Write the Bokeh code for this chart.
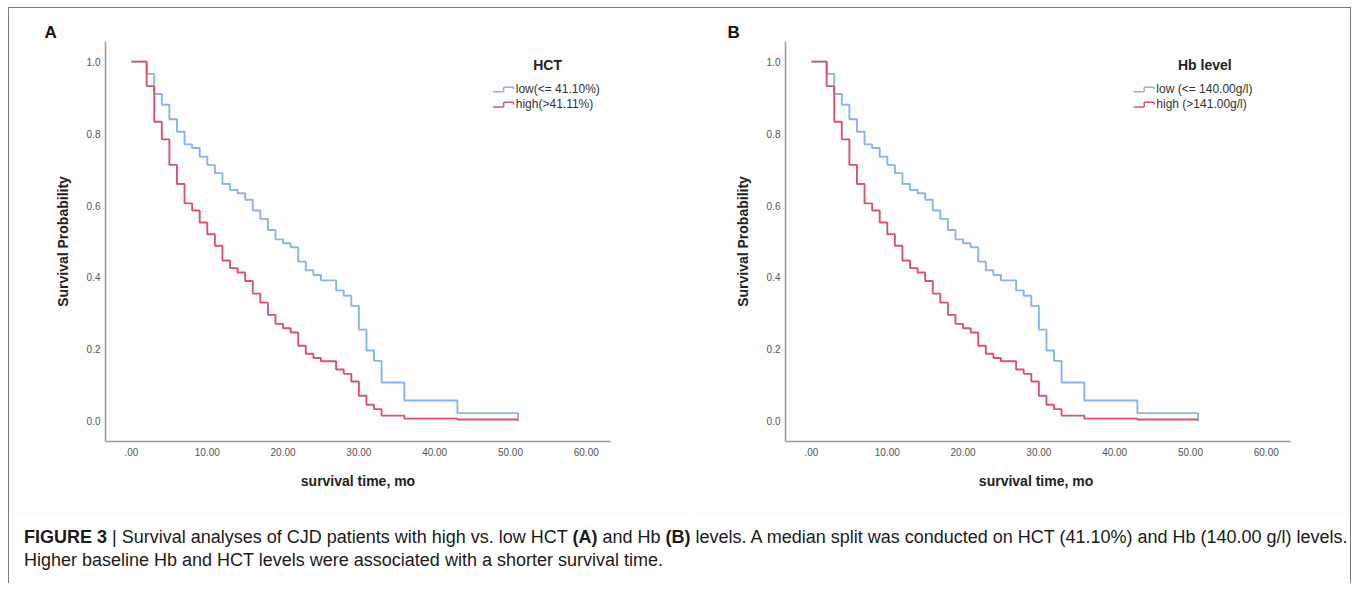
from bokeh.plotting import figure
from bokeh.models import Range1d, FixedTicker, Label, Arrow, Div
from bokeh.layouts import row, column
from bokeh.embed import file_html
from bokeh.resources import INLINE

# ---------------- data ----------------
event_months = [0, 2, 3, 4, 5, 6, 7, 8, 9, 10, 11, 12, 13, 14, 15, 16, 17, 18, 19,
                20, 21, 22, 23, 24, 25, 27, 28, 29, 30, 31, 32, 33, 36, 43, 51]

hct_low_surv = [1.0, 0.966, 0.91, 0.88, 0.84, 0.805, 0.77, 0.76, 0.736, 0.713, 0.69,
                0.66, 0.643, 0.634, 0.616, 0.586, 0.563, 0.532, 0.506, 0.495, 0.484,
                0.444, 0.42, 0.407, 0.392, 0.364, 0.349, 0.321, 0.255, 0.197, 0.168,
                0.108, 0.058, 0.023, 0.0]
hct_high_surv = [1.0, 0.932, 0.833, 0.784, 0.713, 0.66, 0.606, 0.586, 0.553, 0.52,
                 0.488, 0.447, 0.426, 0.414, 0.39, 0.355, 0.33, 0.296, 0.271, 0.259,
                 0.247, 0.21, 0.188, 0.176, 0.167, 0.144, 0.132, 0.111, 0.071, 0.046,
                 0.034, 0.016, 0.0075, 0.005, 0.005]

hb_low_surv = [1.0, 0.966, 0.91, 0.88, 0.84, 0.805, 0.77, 0.76, 0.736, 0.713, 0.69,
               0.66, 0.643, 0.634, 0.616, 0.586, 0.563, 0.532, 0.506, 0.495, 0.484,
               0.444, 0.42, 0.407, 0.392, 0.364, 0.349, 0.321, 0.255, 0.197, 0.168,
               0.108, 0.058, 0.023, 0.0]
hb_high_surv = [1.0, 0.932, 0.833, 0.784, 0.713, 0.66, 0.606, 0.586, 0.553, 0.52,
                0.488, 0.447, 0.426, 0.414, 0.39, 0.355, 0.33, 0.296, 0.271, 0.259,
                0.247, 0.21, 0.188, 0.176, 0.167, 0.144, 0.132, 0.111, 0.071, 0.046,
                0.034, 0.016, 0.0075, 0.005, 0.005]

x_ticks = [0, 10, 20, 30, 40, 50, 60]
x_tick_labels = [".00", "10.00", "20.00", "30.00", "40.00", "50.00", "60.00"]
y_ticks = [0.0, 0.2, 0.4, 0.6, 0.8, 1.0]
y_tick_labels = ["0.0", "0.2", "0.4", "0.6", "0.8", "1.0"]

hct_legend_title = "HCT"
hct_legend_labels = ["low(<= 41.10%)", "high(>41.11%)"]
hb_legend_title = "Hb level"
hb_legend_labels = ["low  (<= 140.00g/l)", "high  (>141.00g/l)"]

BLUE = "#8db4ea"
RED = "#d6566f"
FONT = "Liberation Sans"


def make_panel(letter, x_title, leg_title, leg_labels, low_s, high_s,
               border_right, title_x, entry_x, letter_offset):
    p = figure(frame_width=505, frame_height=400,
               min_border_left=96, min_border_right=border_right,
               min_border_top=33, min_border_bottom=76,
               x_range=Range1d(-3.43, 63.2), y_range=Range1d(-0.056, 1.056),
               output_backend="svg", toolbar_location=None,
               background_fill_color="#fdfdfd", border_fill_color="#fdfdfd")
    p.outline_line_color = None
    p.grid.visible = False

    # panel letter as the figure title
    p.title.text = letter
    p.title.align = "left"
    p.title.offset = letter_offset
    p.title.standoff = 0
    p.title.text_font = FONT
    p.title.text_font_size = "17px"
    p.title.text_font_style = "bold"
    p.title.text_color = "#111111"

    for ax in (p.xaxis[0], p.yaxis[0]):
        ax.axis_line_color = "#9a9a9a"
        ax.axis_line_width = 1.5
        ax.major_tick_line_color = None
        ax.minor_tick_line_color = None
        ax.major_tick_out = 0
        ax.major_label_text_font = FONT
        ax.major_label_text_font_size = "10px"
        ax.major_label_text_color = "#555555"
        ax.axis_label_text_font = FONT
        ax.axis_label_text_font_style = "bold"
        ax.axis_label_text_font_size = "14px"
        ax.axis_label_text_color = "#222222"

    p.xaxis.ticker = FixedTicker(ticks=x_ticks)
    p.xaxis.major_label_overrides = {t: l for t, l in zip(x_ticks, x_tick_labels)}
    p.xaxis.major_label_standoff = 6
    p.xaxis.axis_label = x_title
    p.xaxis.axis_label_standoff = 14

    p.yaxis.ticker = FixedTicker(ticks=y_ticks)
    p.yaxis.major_label_overrides = {t: l for t, l in zip(y_ticks, y_tick_labels)}
    p.yaxis.major_label_standoff = 5
    p.yaxis.axis_label = "Survival Probability"
    p.yaxis.axis_label_standoff = 13

    p.step(event_months, low_s, mode="after", line_color=BLUE, line_width=1.9)
    p.step(event_months, high_s, mode="after", line_color=RED, line_width=1.9)

    # legend (title + step icons + labels)
    p.add_layout(Label(x=title_x, y=0.99, text=leg_title, text_font=FONT,
                       text_font_style="bold", text_font_size="14px",
                       text_align="center", text_baseline="middle",
                       text_color="#222222"))
    colors = [BLUE, RED]
    ys = [0.924, 0.882]
    for lab, col, yy in zip(leg_labels, colors, ys):
        p.add_layout(Label(x=entry_x, y=yy, text=lab, text_font=FONT,
                           text_font_size="12px", text_align="left",
                           text_baseline="middle", text_color="#333333"))
        x0, x1, x2 = entry_x - 3.0, entry_x - 1.6, entry_x - 0.3
        ylo, yhi = yy - 0.008, yy + 0.005
        for xs, ys_, xe, ye in [(x0, ylo, x1, ylo), (x1, ylo, x1, yhi),
                                (x1, yhi, x2, yhi), (x2, yhi, x2, yhi - 0.006)]:
            p.add_layout(Arrow(end=None, x_start=xs, y_start=ys_, x_end=xe, y_end=ye,
                               line_color=col, line_width=1.5))
    return p


pa = make_panel("A", "survival time, mo", hct_legend_title, hct_legend_labels,
                hct_low_surv, hct_high_surv, border_right=79,
                title_x=54.9, entry_x=50.7, letter_offset=-61)
pb = make_panel("B", "survival time,  mo", hb_legend_title, hb_legend_labels,
                hb_low_surv, hb_high_surv, border_right=60,
                title_x=51.9, entry_x=45.5, letter_offset=-58)

caption = Div(
    text=("<b>FIGURE 3</b> | Survival analyses of CJD patients with high vs. low HCT "
          "<b>(A)</b> and Hb <b>(B)</b> levels. A median split was conducted on HCT "
          "(41.10%) and Hb (140.00 g/l) levels.<br>Higher baseline Hb and HCT levels "
          "were associated with a shorter survival time."),
    width=1330, height=56,
    styles={"font-family": "'Liberation Sans', Arial, sans-serif",
            "font-size": "18px", "line-height": "23px", "color": "#1a1a1a",
            "white-space": "nowrap", "padding-left": "10px", "padding-top": "4px",
            "background-color": "white"})

layout = column(row(pa, pb), caption,
                styles={"border": "1px solid #7a7a7a", "border-bottom": "none",
                        "background-color": "white", "margin-left": "8px",
                        "margin-top": "7px"})

open("out.html", "w").write(file_html(layout, INLINE))
